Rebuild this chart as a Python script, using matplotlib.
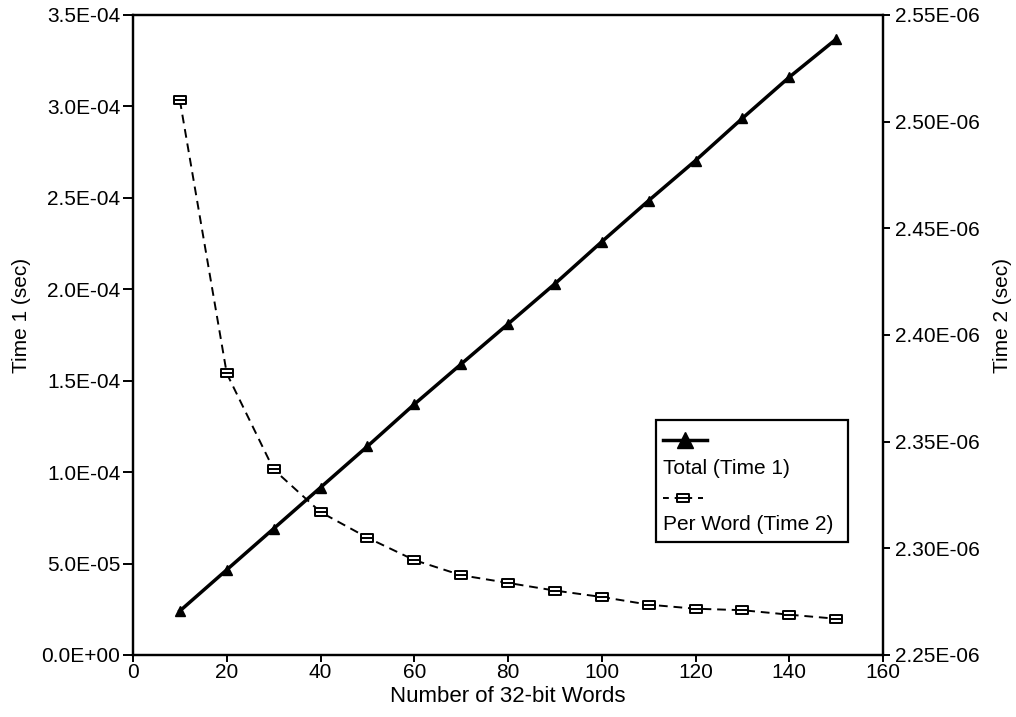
import matplotlib
matplotlib.use("Agg")
import matplotlib.pyplot as plt
from matplotlib.ticker import FuncFormatter, MultipleLocator
from matplotlib.path import Path
from matplotlib.lines import Line2D
from matplotlib.patches import Rectangle

plt.rcParams['font.family'] = ['Liberation Sans', 'DejaVu Sans']

# Data
words = [10, 20, 30, 40, 50, 60, 70, 80, 90, 100, 110, 120, 130, 140, 150]
total_time1 = [0.241e-4, 0.466e-4, 0.691e-4, 0.916e-4, 1.141e-4, 1.371e-4, 1.591e-4,
               1.810e-4, 2.030e-4, 2.260e-4, 2.485e-4, 2.704e-4, 2.935e-4, 3.160e-4, 3.368e-4]
per_word_time2 = [2.510e-6, 2.382e-6, 2.337e-6, 2.317e-6, 2.305e-6, 2.2945e-6, 2.2874e-6,
                  2.2838e-6, 2.2802e-6, 2.2772e-6, 2.2736e-6, 2.2717e-6, 2.2710e-6,
                  2.2689e-6, 2.2670e-6]
label_total = "Total (Time 1)"
label_per = "Per Word (Time 2)"
xlabel = "Number of 32-bit Words"
ylabel1 = "Time 1 (sec)"
ylabel2 = "Time 2 (sec)"

FS = 15

fig = plt.figure(figsize=(10.16, 7.17), dpi=100)
ax = fig.add_axes([133/1016, 1-655/717, 750/1016, 640/717])
ax2 = ax.twinx()

# custom box-with-bar marker
box = Path([(-1.35, -1), (1.35, -1), (1.35, 1), (-1.35, 1), (-1.35, -1), (-1.35, 0), (1.35, 0)],
           [Path.MOVETO, Path.LINETO, Path.LINETO, Path.LINETO, Path.CLOSEPOLY, Path.MOVETO, Path.LINETO])

ax.plot(words, total_time1, color='black', lw=2.5, marker='^', ms=7, zorder=3)
ax2.plot(words, per_word_time2, color='black', lw=1.4, ls=(0, (4.5, 3)),
         marker=box, ms=8.5, mfc='white', mec='black', mew=1.4, zorder=3)

ax.set_xlim(0, 160)
ax.set_ylim(0, 3.5e-4)
ax2.set_ylim(2.25e-6, 2.55e-6)
ax.xaxis.set_major_locator(MultipleLocator(20))
ax.yaxis.set_major_locator(MultipleLocator(5e-5))
ax2.yaxis.set_major_locator(MultipleLocator(5e-8))
ax.yaxis.set_major_formatter(FuncFormatter(lambda v, p: f"{v:.1E}"))
ax2.yaxis.set_major_formatter(FuncFormatter(lambda v, p: f"{v:.2E}"))
ax.xaxis.set_major_formatter(FuncFormatter(lambda v, p: f"{int(round(v))}"))

for a in (ax, ax2):
    for s in a.spines.values():
        s.set_linewidth(1.6)
    a.tick_params(direction='out', width=1.4, labelsize=FS, colors='black', pad=3)
ax.tick_params(axis='y', length=7, pad=2)
ax.tick_params(axis='x', length=5, pad=1)
ax2.tick_params(axis='y', length=5, pad=4)

ax.set_xlabel(xlabel, fontsize=16, labelpad=3)
ax.set_ylabel(ylabel1, fontsize=FS)
ax2.set_ylabel(ylabel2, fontsize=FS)
ax.yaxis.set_label_coords(-0.136, 0.53)
ax2.yaxis.set_label_coords(1.147, 0.53)

# Legend box (handles above labels)
ax2.add_patch(Rectangle((0.697, 0.177), 0.256, 0.19, transform=ax2.transAxes,
                        fill=True, facecolor='white', edgecolor='black', lw=1.6, zorder=5))
lx0, lx1 = (663-133)/750, (707-133)/750
yh1 = (655-440)/640
yt1 = (655-468)/640
yh2 = (655-498)/640
yt2 = (655-525)/640
ax2.add_line(Line2D([lx0, lx1], [yh1, yh1], transform=ax2.transAxes, color='black', lw=2.5,
                    zorder=6))
ax2.add_line(Line2D([(lx0+lx1)/2], [yh1], transform=ax2.transAxes, color='black', marker='^',
                    ms=11, zorder=6))
lx1b = (703-133)/750
ax2.add_line(Line2D([lx0, lx1b], [yh2, yh2], transform=ax2.transAxes, color='black', lw=1.4,
                    ls=(0, (3, 3)), zorder=6))
ax2.add_line(Line2D([(lx0+lx1b)/2], [yh2], transform=ax2.transAxes, color='black', marker=box,
                    ms=8, mfc='white', mec='black', mew=1.4, zorder=6))
ax2.text(lx0, yt1, label_total, transform=ax2.transAxes, fontsize=FS, va='center', ha='left',
         zorder=7)
ax2.text(lx0, yt2, label_per, transform=ax2.transAxes, fontsize=FS, va='center', ha='left',
         zorder=7)

fig.savefig("out.png", dpi=100, facecolor='white')
